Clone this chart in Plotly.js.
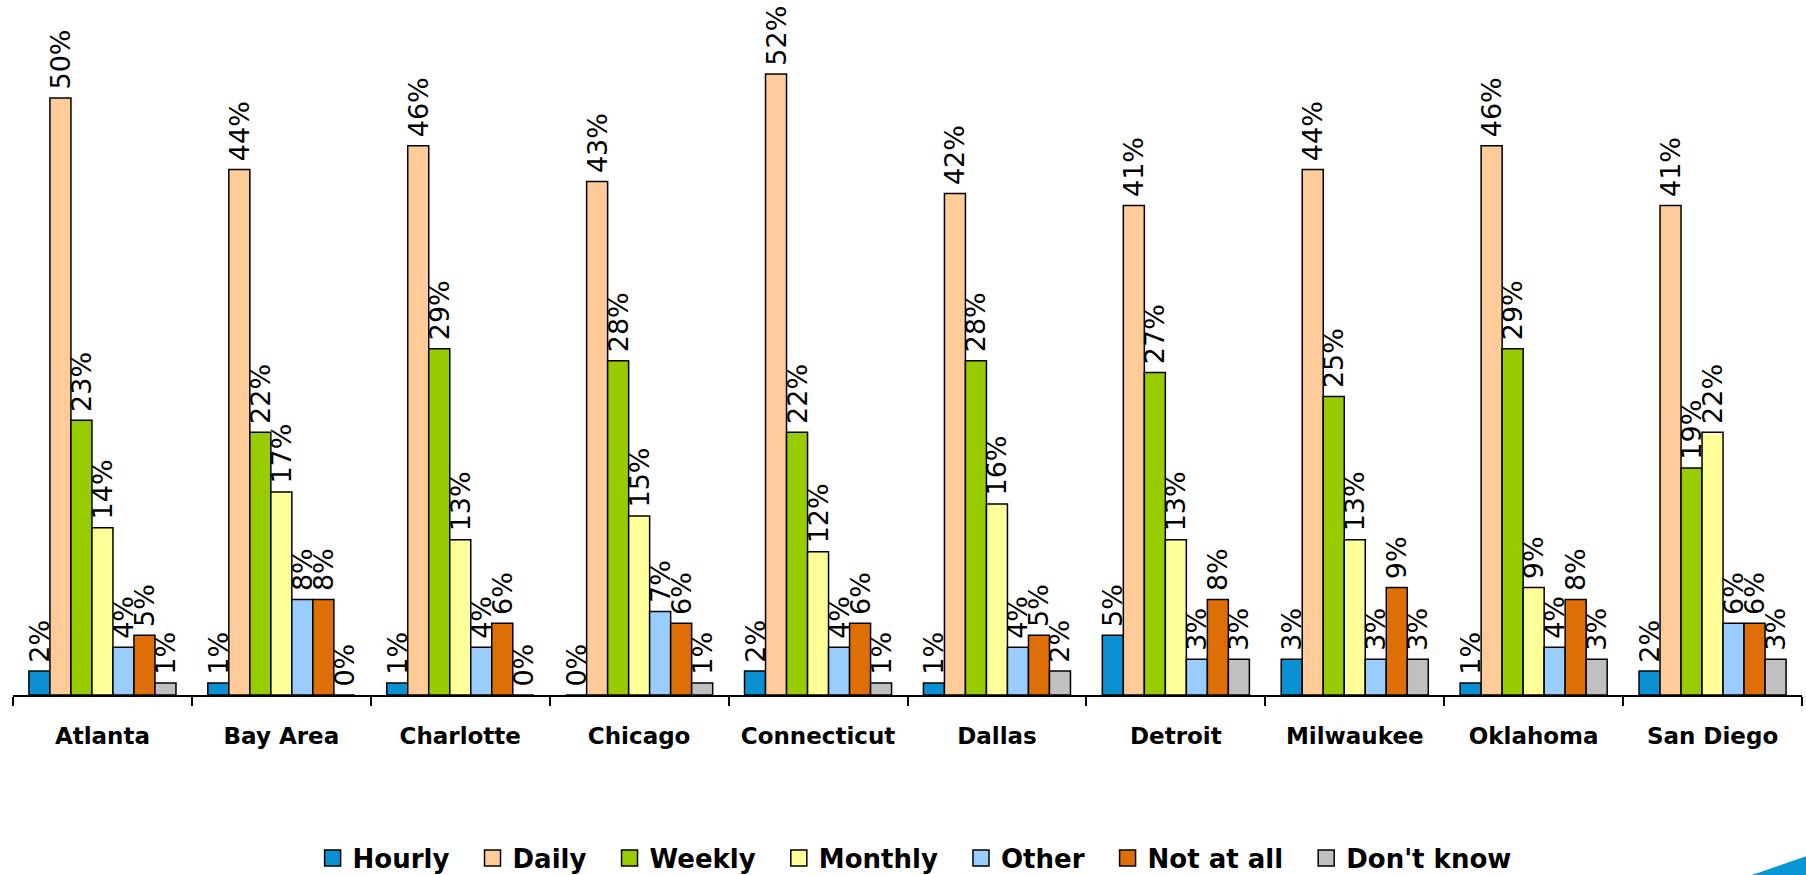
<!DOCTYPE html>
<html>
<head>
<meta charset="utf-8">
<script src="https://cdn.plot.ly/plotly-3.0.1.min.js"></script>
<style>
  html, body { margin: 0; padding: 0; background: #fff; }
  #chart { width: 1806px; height: 875px; }
</style>
</head>
<body>
<div id="chart"></div>
<script>
// ---- data ----
const cities = ["Atlanta", "Bay Area", "Charlotte", "Chicago", "Connecticut", "Dallas", "Detroit", "Milwaukee", "Oklahoma", "San Diego"];
const seriesNames = ["Hourly", "Daily", "Weekly", "Monthly", "Other", "Not at all", "Don't know"];
const hourly    = [2, 1, 1, 0, 2, 1, 5, 3, 1, 2];
const daily     = [50, 44, 46, 43, 52, 42, 41, 44, 46, 41];
const weekly    = [23, 22, 29, 28, 22, 28, 27, 25, 29, 19];
const monthly   = [14, 17, 13, 15, 12, 16, 13, 13, 9, 22];
const other     = [4, 8, 4, 7, 4, 4, 3, 3, 4, 6];
const notAtAll  = [5, 8, 6, 6, 6, 5, 8, 9, 8, 6];
const dontKnow  = [1, 0, 0, 1, 1, 2, 3, 3, 3, 3];
const seriesValues = [hourly, daily, weekly, monthly, other, notAtAll, dontKnow];
const seriesColors = ["#0b91d3", "#ffcc99", "#99cc00", "#ffff99", "#99ccff", "#de6e06", "#c0c0c0"];

const barTraces = seriesNames.map((name, i) => ({
  type: "bar",
  name: name,
  legendgroup: name,
  showlegend: false,
  x: cities,
  y: seriesValues[i],
  marker: { color: seriesColors[i], line: { color: "#000", width: 1.5 } },
  texttemplate: "\u2009%{y}%",
  textposition: "outside",
  textangle: -90,
  constraintext: "none",
  cliponaxis: false,
  textfont: { family: "DejaVu Sans", size: 27, color: "#000" },
  hoverinfo: "skip"
}));

// legend-only entries (square swatches with black outline)
const legendTraces = seriesNames.map((name, i) => ({
  type: "scatter",
  mode: "markers",
  name: name + "\u00a0\u00a0",
  legendgroup: name,
  showlegend: true,
  x: [null],
  y: [null],
  marker: { symbol: "square", size: 16, color: seriesColors[i], line: { color: "#000", width: 1.5 } },
  hoverinfo: "skip"
}));

const layout = {
  width: 1806,
  height: 875,
  margin: { l: 13, r: 4, t: 0, b: 180, pad: 0, autoexpand: false },
  paper_bgcolor: "#fff",
  plot_bgcolor: "#fff",
  barmode: "group",
  bargap: 0.178,
  bargroupgap: 0,
  showlegend: true,
  hovermode: false,
  xaxis: {
    type: "category",
    range: [-0.5, 9.5],
    showline: true,
    linecolor: "#000",
    linewidth: 2,
    ticks: "outside",
    tickson: "boundaries",
    ticklen: 9,
    tickwidth: 2,
    tickcolor: "#000",
    ticklabelstandoff: 19,
    showgrid: false,
    zeroline: false,
    tickfont: { family: "DejaVu Sans", size: 23, weight: "bold", color: "#000" }
  },
  yaxis: {
    range: [0, 58.2],
    visible: false,
    showgrid: false,
    zeroline: false
  },
  legend: {
    orientation: "h",
    x: 0.509,
    xanchor: "center",
    y: -0.2345,
    yanchor: "middle",
    itemwidth: 30,
    font: { family: "DejaVu Sans", size: 26, weight: "bold", color: "#000" },
    bgcolor: "rgba(0,0,0,0)",
    traceorder: "normal"
  },
  shapes: [{
    type: "path",
    xref: "paper",
    yref: "paper",
    path: "M 0.972,-0.259 L 1.0044,-0.2302 L 1.0044,-0.259 Z",
    fillcolor: "#0897d5",
    line: { width: 0 },
    layer: "above"
  }]
};

Plotly.newPlot("chart", barTraces.concat(legendTraces), layout, { displayModeBar: false, staticPlot: true });
</script>
</body>
</html>
